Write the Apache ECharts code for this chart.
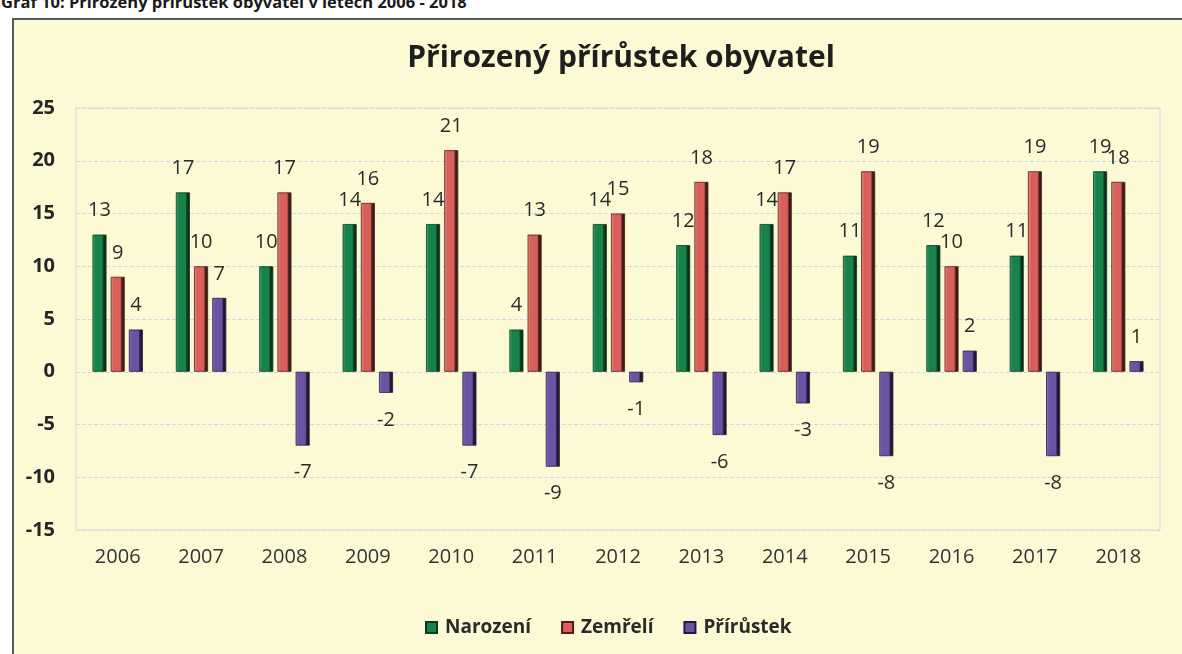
<!DOCTYPE html>
<html>
<head>
<meta charset="utf-8">
<script src="https://cdn.jsdelivr.net/npm/echarts@6/dist/echarts.min.js"></script>
<style>
  body { margin: 0; background: #fff; overflow: hidden; }
  .caption {
    position: absolute; left: 1px; top: -10px;
    font: bold 16.5px "Open Sans", sans-serif; color: #1a1a1a;
  }
  .box {
    position: absolute; left: 12px; top: 18px; width: 1300px; height: 800px;
    background: #fbfad4; border-left: 2px solid #5a5a5a; border-top: 2px solid #5a5a5a;
  }
  #chart { position: absolute; left: 0; top: 0; width: 1182px; height: 654px; }
</style>
</head>
<body>
<div class="caption">Graf 10: Přirozený přírůstek obyvatel v letech 2006 - 2018</div>
<div class="box"></div>
<div id="chart"></div>
<script>
  // data
  const years = ['2006', '2007', '2008', '2009', '2010', '2011', '2012', '2013', '2014', '2015', '2016', '2017', '2018']
  const narozeni = [13, 17, 10, 14, 14, 4, 14, 12, 14, 11, 12, 11, 19]
  const zemreli = [9, 10, 17, 16, 21, 13, 15, 18, 17, 19, 10, 19, 18]
  const prirustek = [4, 7, -7, -2, -7, -9, -1, -6, -3, -8, 2, -8, 1]
  const seriesNames = ['Narození', 'Zemřelí', 'Přírůstek']

  const font = '"Open Sans", sans-serif'

  // light, base, dark
  const palette = [
    ['#45b077', '#17824a', '#0a3a20'],
    ['#ee9892', '#d9605a', '#4e1e1b'],
    ['#9078c4', '#6a53a2', '#241a3d']
  ]

  function barFill(c) {
    return new echarts.graphic.LinearGradient(0, 0, 1, 0, [
      { offset: 0, color: c[0] },
      { offset: 0.2, color: c[1] },
      { offset: 0.68, color: c[1] },
      { offset: 0.8, color: c[2] },
      { offset: 1, color: '#1b1b1b' }
    ])
  }

  function makeData(arr) {
    return arr.map(v => ({
      value: v,
      label: v < 0 ? { position: 'bottom', distance: 17 } : { position: 'top', distance: 14 }
    }))
  }

  const allValues = [narozeni, zemreli, prirustek]

  const chart = echarts.init(document.getElementById('chart'))
  const option = {
    animation: false,
    backgroundColor: 'transparent',
    title: {
      text: 'Přirozený přírůstek obyvatel',
      left: 616, textAlign: 'center', top: 38,
      textStyle: { fontFamily: font, fontWeight: 'bold', fontSize: 30, color: '#1e1e1e' }
    },
    legend: {
      data: seriesNames.map((n, i) => ({ name: n, itemStyle: { color: palette[i][1] } })),
      left: 420, top: 613,
      icon: 'rect', itemWidth: 11, itemHeight: 11, itemGap: 30,
      textStyle: { fontFamily: font, fontWeight: 'bold', fontSize: 19, color: '#2a2a2a', padding: [0, 0, 0, 3] }
    },
    grid: {
      left: 76, right: 22, top: 108, bottom: 124,
      show: true, borderColor: '#d6dae6', borderWidth: 1
    },
    xAxis: {
      type: 'category',
      data: years,
      axisLine: { show: false, onZero: false },
      axisTick: { show: false },
      axisLabel: { margin: 17, fontFamily: font, fontSize: 20, color: '#333' }
    },
    yAxis: {
      type: 'value',
      min: -15, max: 25, interval: 5,
      axisLine: { show: false },
      axisTick: { show: false },
      axisLabel: { margin: 21, fontFamily: font, fontWeight: 'bold', fontSize: 20, color: '#262626' },
      splitLine: { lineStyle: { color: '#d2d7e4', type: [4, 2] } }
    },
    series: seriesNames.map((name, i) => ({
      name: name,
      type: 'bar',
      barWidth: 14,
      barGap: '30%',
      data: makeData(allValues[i]),
      itemStyle: { color: barFill(palette[i]), borderColor: palette[i][2], borderWidth: 0.8 },
      label: { show: true, fontFamily: font, fontSize: 20, color: '#2b2b2b' }
    }))
  }
  chart.setOption(option)
</script>
</body>
</html>
